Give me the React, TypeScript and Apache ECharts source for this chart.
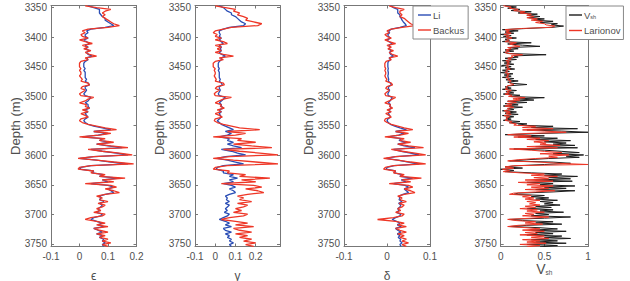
import React, { useEffect, useRef } from 'react';
import * as echarts from 'echarts';

// Sampling of the logs along depth (m)
const DEPTH_TOP = 3347;
const DEPTH_STEP = 3.04;
const VSH_STEP = 2.02;

const DEPTH_MIN = 3346.5;
const DEPTH_MAX = 3754.5;
const DEPTH_TICKS = [3350, 3400, 3450, 3500, 3550, 3600, 3650, 3700, 3750];

const EPS_TICKS = [-0.1, 0, 0.1, 0.2];
const GAMMA_TICKS = [-0.1, 0, 0.1, 0.2];
const DELTA_TICKS = [-0.1, 0, 0.1];
const VSH_TICKS = [0, 0.5, 1];

const EPS_LI = [
  0.03, 0.05, 0.07, 0.07, 0.07, 0.075, 0.08, 0.09, 0.09, 0.10,
  0.11, 0.12, 0.09, 0.04, 0.025, 0.03, 0.02, 0.02, 0.03, 0.015,
  0.025, 0.035, 0.02, 0.03, 0.02, 0.035, 0.025, 0.03, 0.045, 0.025,
  0.03, 0.02, 0.015, 0.015, 0.015, 0.02, 0.015, 0.02, 0.02, 0.02,
  0.02, 0.025, 0.02, 0.03, 0.035, 0.02, 0.02, 0.025, 0.02, 0.015,
  0.02, 0.04, 0.035, 0.03, 0.02, 0.03, 0.03, 0.035, 0.02, 0.03,
  0.02, 0.025, 0.03, 0.02, 0.015, 0.02, 0.03, 0.05, 0.08, 0.11,
  0.05, 0.10, 0.065, 0.01, 0.08, 0.07, 0.11, 0.06, 0.10, 0.15,
  0.04, 0.08, 0.13, 0.17, 0.05, 0.0, 0.06, 0.11, 0.17, 0.04,
  0.005, 0.0, 0.05, 0.045, 0.085, 0.07, 0.14, 0.08, 0.10, 0.04,
  0.10, 0.12, 0.10, 0.11, 0.12, 0.09, 0.07, 0.075, 0.07, 0.085,
  0.07, 0.08, 0.075, 0.065, 0.07, 0.06, 0.08, 0.075, 0.05, 0.04,
  0.06, 0.08, 0.065, 0.085, 0.05, 0.065, 0.08, 0.06, 0.08, 0.07,
  0.085, 0.08, 0.09, 0.08, 0.085,
];

const EPS_BACKUS = [
  0.02, 0.06, 0.11, 0.09, 0.08, 0.09, 0.08, 0.09, 0.10, 0.11,
  0.12, 0.14, 0.10, 0.03, 0.01, 0.02, 0.005, 0.01, 0.03, 0.0,
  0.02, 0.045, 0.01, 0.03, 0.015, 0.04, 0.02, 0.035, 0.06, 0.02,
  0.03, 0.005, 0.0, 0.0, 0.0, 0.005, 0.0, 0.005, 0.005, 0.0,
  0.005, 0.01, 0.005, 0.03, 0.035, 0.01, 0.005, 0.02, 0.01, 0.0,
  0.005, 0.05, 0.03, 0.02, 0.0, 0.025, 0.02, 0.035, 0.01, 0.03,
  0.005, 0.02, 0.03, 0.005, 0.0, 0.01, 0.03, 0.06, 0.09, 0.13,
  0.05, 0.11, 0.07, 0.0, 0.09, 0.07, 0.12, 0.06, 0.11, 0.17,
  0.03, 0.08, 0.14, 0.185, 0.05, -0.005, 0.06, 0.12, 0.19, 0.04,
  0.0, -0.005, 0.05, 0.04, 0.09, 0.07, 0.16, 0.08, 0.12, 0.02,
  0.11, 0.13, 0.09, 0.12, 0.14, 0.09, 0.06, 0.08, 0.07, 0.10,
  0.065, 0.09, 0.08, 0.06, 0.075, 0.05, 0.09, 0.08, 0.04, 0.02,
  0.06, 0.09, 0.06, 0.1, 0.05, 0.07, 0.1, 0.06, 0.09, 0.07,
  0.1, 0.08, 0.11, 0.08, 0.1,
];

const GAMMA_LI = [
  0.02, 0.04, 0.05, 0.06, 0.08, 0.08, 0.10, 0.11, 0.12, 0.13,
  0.15, 0.14, 0.07, 0.04, 0.02, 0.02, 0.025, 0.02, 0.03, 0.02,
  0.03, 0.04, 0.02, 0.03, 0.025, 0.03, 0.02, 0.03, 0.05, 0.03,
  0.03, 0.02, 0.015, 0.015, 0.015, 0.02, 0.015, 0.02, 0.02, 0.02,
  0.02, 0.025, 0.02, 0.03, 0.035, 0.02, 0.02, 0.025, 0.02, 0.015,
  0.02, 0.05, 0.04, 0.03, 0.02, 0.03, 0.03, 0.04, 0.02, 0.03,
  0.02, 0.025, 0.03, 0.02, 0.01, 0.02, 0.03, 0.05, 0.07, 0.09,
  0.05, 0.08, 0.06, 0.02, 0.07, 0.06, 0.09, 0.06, 0.09, 0.13,
  0.03, 0.08, 0.11, 0.15, 0.05, 0.01, 0.06, 0.10, 0.14, 0.04,
  0.01, 0.005, 0.04, 0.04, 0.09, 0.07, 0.11, 0.07, 0.09, 0.04,
  0.08, 0.10, 0.07, 0.09, 0.10, 0.07, 0.05, 0.06, 0.055, 0.07,
  0.05, 0.07, 0.06, 0.05, 0.06, 0.045, 0.07, 0.06, 0.04, 0.02,
  0.05, 0.07, 0.05, 0.08, 0.04, 0.05, 0.08, 0.05, 0.07, 0.06,
  0.08, 0.07, 0.09, 0.07, 0.08,
];

const GAMMA_BACKUS = [
  0.0, 0.05, 0.10, 0.09, 0.12, 0.11, 0.14, 0.16, 0.15, 0.19,
  0.23, 0.21, 0.08, 0.04, 0.0, -0.01, 0.01, 0.0, 0.03, 0.0,
  0.04, 0.06, 0.0, 0.03, 0.01, 0.03, 0.0, 0.04, 0.09, 0.02,
  0.04, 0.0, -0.01, -0.01, -0.01, 0.0, -0.005, 0.0, 0.0, -0.005,
  0.0, 0.005, 0.0, 0.04, 0.045, 0.01, 0.0, 0.02, 0.005, -0.005,
  0.0, 0.08, 0.04, 0.02, 0.0, 0.03, 0.025, 0.045, 0.01, 0.03,
  0.0, 0.02, 0.035, 0.0, -0.005, 0.01, 0.04, 0.08, 0.12, 0.22,
  0.06, 0.15, 0.10, -0.01, 0.13, 0.11, 0.20, 0.09, 0.18, 0.28,
  0.04, 0.12, 0.22, 0.31, 0.07, -0.01, 0.09, 0.20, 0.31, 0.06,
  0.0, -0.01, 0.07, 0.06, 0.15, 0.12, 0.27, 0.13, 0.20, 0.03,
  0.19, 0.23, 0.15, 0.21, 0.24, 0.16, 0.11, 0.14, 0.12, 0.18,
  0.11, 0.16, 0.14, 0.10, 0.13, 0.09, 0.16, 0.14, 0.07, 0.03,
  0.10, 0.16, 0.10, 0.19, 0.09, 0.12, 0.18, 0.10, 0.16, 0.12,
  0.18, 0.14, 0.2, 0.15, 0.19,
];

const DELTA_LI = [
  0.008, 0.015, 0.025, 0.025, 0.025, 0.03, 0.03, 0.033, 0.035, 0.038,
  0.042, 0.045, 0.03, 0.01, 0.004, 0.006, 0.002, 0.003, 0.008, 0.0,
  0.005, 0.012, 0.004, 0.008, 0.004, 0.01, 0.006, 0.008, 0.015, 0.005,
  0.008, 0.003, 0.002, 0.002, 0.002, 0.003, 0.002, 0.003, 0.003, 0.002,
  0.003, 0.004, 0.003, 0.008, 0.01, 0.004, 0.003, 0.006, 0.004, 0.002,
  0.003, 0.012, 0.01, 0.007, 0.003, 0.008, 0.007, 0.01, 0.004, 0.008,
  0.003, 0.006, 0.008, 0.002, 0.0, 0.003, 0.008, 0.018, 0.03, 0.045,
  0.02, 0.04, 0.027, 0.003, 0.033, 0.028, 0.045, 0.025, 0.04, 0.065,
  0.015, 0.033, 0.055, 0.075, 0.02, -0.002, 0.025, 0.05, 0.075, 0.017,
  0.0, -0.002, 0.02, 0.017, 0.035, 0.03, 0.06, 0.033, 0.045, 0.015,
  0.042, 0.05, 0.04, 0.045, 0.05, 0.037, 0.028, 0.03, 0.028, 0.035,
  0.027, 0.032, 0.03, 0.025, 0.028, 0.022, 0.032, 0.03, 0.02, 0.012,
  0.022, 0.03, 0.024, 0.033, 0.02, 0.025, 0.032, 0.024, 0.03, 0.026,
  0.032, 0.03, 0.035, 0.03, 0.033,
];

const DELTA_BACKUS = [
  0.005, 0.02, 0.04, 0.03, 0.03, 0.035, 0.03, 0.04, 0.045, 0.05,
  0.055, 0.065, 0.035, 0.01, 0.0, 0.005, -0.005, 0.0, 0.01, -0.005,
  0.005, 0.02, 0.0, 0.01, 0.002, 0.015, 0.005, 0.012, 0.025, 0.005,
  0.01, -0.002, -0.005, -0.005, -0.005, -0.003, -0.005, -0.003, -0.003, -0.005,
  -0.003, 0.0, -0.003, 0.01, 0.013, 0.0, -0.003, 0.005, 0.0, -0.005,
  -0.003, 0.02, 0.012, 0.005, -0.005, 0.008, 0.006, 0.013, 0.0, 0.01,
  -0.003, 0.005, 0.01, -0.004, -0.006, 0.0, 0.01, 0.025, 0.04, 0.06,
  0.02, 0.05, 0.03, -0.005, 0.04, 0.03, 0.055, 0.025, 0.05, 0.085,
  0.01, 0.035, 0.065, 0.09, 0.02, -0.008, 0.025, 0.055, 0.09, 0.015,
  -0.004, -0.008, 0.02, 0.015, 0.04, 0.03, 0.08, 0.035, 0.055, 0.005,
  0.05, 0.06, 0.04, 0.055, 0.065, 0.04, 0.025, 0.035, 0.03, 0.045,
  0.028, 0.04, 0.035, 0.025, 0.032, 0.02, 0.04, 0.035, 0.015, -0.022,
  0.02, 0.04, 0.025, 0.045, 0.02, 0.03, 0.045, 0.025, 0.04, 0.03,
  0.045, 0.035, 0.05, 0.035, 0.045,
];

const VSH = [
  0.05, 0.18, 0.08, 0.22, 0.12, 0.35, 0.2, 0.42, 0.3, 0.45,
  0.32, 0.5, 0.38, 0.6, 0.45, 0.65, 0.58, 0.72, 0.6, 0.3,
  0.02, 0.2, 0.05, 0.15, 0.0, 0.12, 0.03, 0.18, 0.05, 0.1,
  0.02, 0.35, 0.08, 0.25, 0.45, 0.1, 0.2, 0.05, 0.15, 0.03,
  0.1, 0.52, 0.15, 0.2, 0.05, 0.18, 0.02, 0.12, 0.04, 0.15,
  0.01, 0.12, 0.05, 0.16, 0.02, 0.1, 0.0, 0.14, 0.04, 0.12,
  0.02, 0.15, 0.06, 0.2, 0.08, 0.14, 0.3, 0.1, 0.05, 0.12,
  0.02, 0.18, 0.06, 0.15, 0.03, 0.22, 0.1, 0.5, 0.2, 0.38,
  0.08, 0.3, 0.05, 0.2, 0.03, 0.25, 0.08, 0.15, 0.02, 0.18,
  0.05, 0.2, 0.02, 0.15, 0.06, 0.12, 0.03, 0.22, 0.1, 0.3,
  0.2, 0.6, 0.35, 0.88, 0.3, 0.7, 1.0, 0.45, 0.05, 0.5,
  0.2, 0.65, 0.4, 0.8, 0.5, 0.75, 0.6, 0.85, 0.4, 0.88,
  0.15, 0.5, 0.7, 0.9, 0.6, 0.95, 0.75, 0.9, 0.55, 0.3,
  0.1, 0.6, 0.8, 0.5, 0.2, 0.05, 0.25, 0.0, 0.15, 0.05,
  0.35, 0.7, 0.5, 0.88, 0.55, 0.8, 0.4, 0.82, 0.3, 0.6,
  0.45, 0.85, 0.5, 0.75, 0.4, 0.85, 0.6, 0.2, 0.15, 0.5,
  0.35, 0.55, 0.4, 0.65, 0.45, 0.6, 0.5, 0.68, 0.4, 0.58,
  0.3, 0.6, 0.45, 0.72, 0.4, 0.55, 0.35, 0.8, 0.5, 0.1,
  0.25, 0.6, 0.4, 0.7, 0.3, 0.1, 0.45, 0.65, 0.35, 0.75,
  0.4, 0.6, 0.3, 0.7, 0.5, 0.8, 0.35, 0.65, 0.4, 0.75,
  0.3, 0.65, 0.45,
];

const VSH_LARIONOV = [
  0.03, 0.12, 0.1, 0.2, 0.15, 0.28, 0.22, 0.35, 0.3, 0.38,
  0.3, 0.42, 0.35, 0.48, 0.4, 0.5, 0.52, 0.62, 0.58, 0.25,
  0.05, 0.1, 0.06, 0.12, 0.04, 0.1, 0.06, 0.13, 0.07, 0.09,
  0.05, 0.18, 0.1, 0.15, 0.22, 0.08, 0.12, 0.06, 0.1, 0.05,
  0.08, 0.25, 0.12, 0.14, 0.08, 0.12, 0.06, 0.1, 0.07, 0.1,
  0.06, 0.09, 0.07, 0.11, 0.06, 0.08, 0.05, 0.1, 0.07, 0.09,
  0.06, 0.1, 0.08, 0.12, 0.1, 0.11, 0.15, 0.08, 0.06, 0.08,
  0.05, 0.12, 0.07, 0.1, 0.05, 0.13, 0.09, 0.28, 0.14, 0.22,
  0.08, 0.18, 0.07, 0.13, 0.05, 0.15, 0.08, 0.1, 0.04, 0.11,
  0.06, 0.12, 0.04, 0.1, 0.06, 0.08, 0.05, 0.13, 0.1, 0.18,
  0.15, 0.4, 0.25, 0.6, 0.25, 0.5, 0.75, 0.3, 0.08, 0.35,
  0.15, 0.45, 0.3, 0.55, 0.38, 0.52, 0.45, 0.68, 0.3, 0.65,
  0.1, 0.35, 0.5, 0.7, 0.45, 0.78, 0.55, 0.65, 0.4, 0.2,
  0.08, 0.45, 0.65, 1.0, 0.15, 0.05, 0.15, 0.02, 0.1, 0.03,
  0.22, 0.5, 0.35, 0.65, 0.38, 0.55, 0.28, 0.6, 0.2, 0.45,
  0.3, 0.6, 0.35, 0.55, 0.28, 0.62, 0.4, 0.15, 0.1, 0.35,
  0.25, 0.38, 0.28, 0.45, 0.3, 0.4, 0.33, 0.45, 0.28, 0.4,
  0.22, 0.42, 0.3, 0.5, 0.28, 0.38, 0.25, 0.55, 0.35, 0.08,
  0.18, 0.4, 0.28, 0.48, 0.2, 0.08, 0.3, 0.45, 0.25, 0.5,
  0.28, 0.42, 0.22, 0.5, 0.35, 0.55, 0.25, 0.45, 0.3, 0.52,
  0.22, 0.45, 0.3,
];

const BLUE = '#2a4db5';
const RED = '#ee3626';
const BLACK = '#1c1c1c';
const AXIS_COLOR = '#777777';
const TEXT_COLOR = '#4f4f4f';
const FONT = '"Liberation Sans", Arial, Helvetica, sans-serif';

// Plot boxes of the four tracks and their horizontal ranges
const PANELS = [
  { left: 51, width: 85.5, min: -0.1, max: 0.2, ticks: EPS_TICKS },
  { left: 195, width: 85, min: -0.1, max: 0.32, ticks: GAMMA_TICKS },
  { left: 344, width: 86, min: -0.1, max: 0.1, ticks: DELTA_TICKS },
  { left: 500.7, width: 87.3, min: 0, max: 1, ticks: VSH_TICKS },
];
const PLOT_TOP = 5.5;
const PLOT_HEIGHT = 241;

const X_NAMES = ['ϵ', 'γ', 'δ', '{v|V}{s|sh}'];

function toPoints(values: number[], top: number, step: number) {
  return values.map((v, i) => [v, top + i * step]);
}

function fmt(v: number) {
  return String(Math.round(v * 100) / 100);
}

export default function App() {
  const ref = useRef<HTMLDivElement>(null);

  useEffect(() => {
    if (!ref.current) return;
    const chart = echarts.init(ref.current, undefined, { renderer: 'svg' });

    const grid = PANELS.map((p) => ({
      left: p.left,
      top: PLOT_TOP,
      width: p.width,
      height: PLOT_HEIGHT,
      containLabel: false,
      outerBoundsMode: 'none',
    }));

    const line = { show: true, onZero: false, lineStyle: { color: AXIS_COLOR, width: 1 } };

    const xAxis: any[] = [];
    const yAxis: any[] = [];
    PANELS.forEach((p, g) => {
      xAxis.push({
        type: 'value',
        gridIndex: g,
        position: 'bottom',
        min: p.min,
        max: p.max,
        axisLine: line,
        axisTick: { show: true, inside: true, length: 3, customValues: p.ticks, lineStyle: { color: AXIS_COLOR } },
        axisLabel: {
          show: true,
          customValues: p.ticks,
          formatter: (v: number) => fmt(v),
          color: TEXT_COLOR,
          fontSize: 10,
          fontFamily: FONT,
          margin: 5,
        },
        splitLine: { show: false },
        name: X_NAMES[g],
        nameLocation: 'middle',
        nameGap: g === 3 ? 15 : 23,
        nameMoveOverlap: false,
        nameTextStyle: {
          color: TEXT_COLOR,
          fontSize: 12,
          fontFamily: FONT,
          rich: {
            v: { fontSize: 14, color: TEXT_COLOR, fontFamily: FONT, lineHeight: 14, verticalAlign: 'top' },
            s: { fontSize: 6.5, color: TEXT_COLOR, fontFamily: FONT, lineHeight: 7, verticalAlign: 'bottom', padding: [9, 0, 0, 0] },
          },
        },
      });
      xAxis.push({
        type: 'value',
        gridIndex: g,
        position: 'top',
        min: p.min,
        max: p.max,
        axisLine: line,
        axisTick: { show: true, inside: true, length: 3, customValues: p.ticks, lineStyle: { color: AXIS_COLOR } },
        axisLabel: { show: false },
        splitLine: { show: false },
      });
      yAxis.push({
        type: 'value',
        gridIndex: g,
        position: 'left',
        inverse: true,
        min: DEPTH_MIN,
        max: DEPTH_MAX,
        axisLine: line,
        axisTick: { show: true, inside: true, length: 3, customValues: DEPTH_TICKS, lineStyle: { color: AXIS_COLOR } },
        axisLabel: {
          show: true,
          customValues: DEPTH_TICKS,
          formatter: (v: number) => String(v),
          color: TEXT_COLOR,
          fontSize: 10,
          fontFamily: FONT,
          margin: 4,
        },
        splitLine: { show: false },
        name: 'Depth (m)',
        nameLocation: 'middle',
        nameGap: 29,
        nameRotate: 90,
        nameMoveOverlap: false,
        nameTextStyle: { color: TEXT_COLOR, fontSize: 13, fontFamily: FONT },
      });
      yAxis.push({
        type: 'value',
        gridIndex: g,
        position: 'right',
        inverse: true,
        min: DEPTH_MIN,
        max: DEPTH_MAX,
        axisLine: line,
        axisTick: { show: true, inside: true, length: 3, customValues: DEPTH_TICKS, lineStyle: { color: AXIS_COLOR } },
        axisLabel: { show: false },
        splitLine: { show: false },
      });
    });

    const curve = (name: string, g: number, data: number[][], color: string, width: number) => ({
      type: 'line',
      name,
      xAxisIndex: 2 * g,
      yAxisIndex: 2 * g,
      data,
      symbol: 'none',
      showSymbol: false,
      clip: true,
      silent: true,
      lineStyle: { color, width },
      itemStyle: { color },
    });

    const series = [
      curve('Li', 0, toPoints(EPS_LI, DEPTH_TOP, DEPTH_STEP), BLUE, 1.3),
      curve('Backus', 0, toPoints(EPS_BACKUS, DEPTH_TOP, DEPTH_STEP), RED, 1.3),
      curve('Li', 1, toPoints(GAMMA_LI, DEPTH_TOP, DEPTH_STEP), BLUE, 1.3),
      curve('Backus', 1, toPoints(GAMMA_BACKUS, DEPTH_TOP, DEPTH_STEP), RED, 1.3),
      curve('Li', 2, toPoints(DELTA_LI, DEPTH_TOP, DEPTH_STEP), BLUE, 1.3),
      curve('Backus', 2, toPoints(DELTA_BACKUS, DEPTH_TOP, DEPTH_STEP), RED, 1.3),
      curve('Vsh', 3, toPoints(VSH, DEPTH_TOP, VSH_STEP), BLACK, 1),
      curve('Larionov', 3, toPoints(VSH_LARIONOV, DEPTH_TOP, VSH_STEP), RED, 1),
    ];

    const legendBase = {
      orient: 'vertical',
      backgroundColor: '#ffffff',
      borderColor: '#888888',
      borderWidth: 1,
      borderRadius: 0,
      icon: 'rect',
      itemWidth: 13,
      itemHeight: 1.4,
      itemGap: 5,
      selectedMode: false,
      textStyle: { color: TEXT_COLOR, fontSize: 9.5, fontFamily: FONT, padding: [0, 0, 0, -3] },
    };

    chart.setOption({
      animation: false,
      backgroundColor: '#ffffff',
      grid,
      xAxis,
      yAxis,
      series,
      legend: [
        {
          ...legendBase,
          left: 413,
          top: 6,
          padding: [4, 4, 4, 5],
          data: ['Li', 'Backus'],
        },
        {
          ...legendBase,
          left: 566,
          top: 6,
          padding: [4, 3, 4, 3],
          data: ['Vsh', 'Larionov'],
          formatter: (name: string) => (name === 'Vsh' ? '{v|V}{s|sh}' : name),
          textStyle: {
            ...legendBase.textStyle,
            rich: {
              v: { fontSize: 9.5, color: TEXT_COLOR, fontFamily: FONT, lineHeight: 11, verticalAlign: 'middle' },
              s: { fontSize: 5.5, color: TEXT_COLOR, fontFamily: FONT, lineHeight: 11, verticalAlign: 'bottom' },
            },
          },
        },
      ],
    });

    return () => chart.dispose();
  }, []);

  return (
    <div
      ref={ref}
      style={{ position: 'fixed', left: 0, top: 0, width: 630, height: 281, background: '#fff' }}
    />
  );
}
